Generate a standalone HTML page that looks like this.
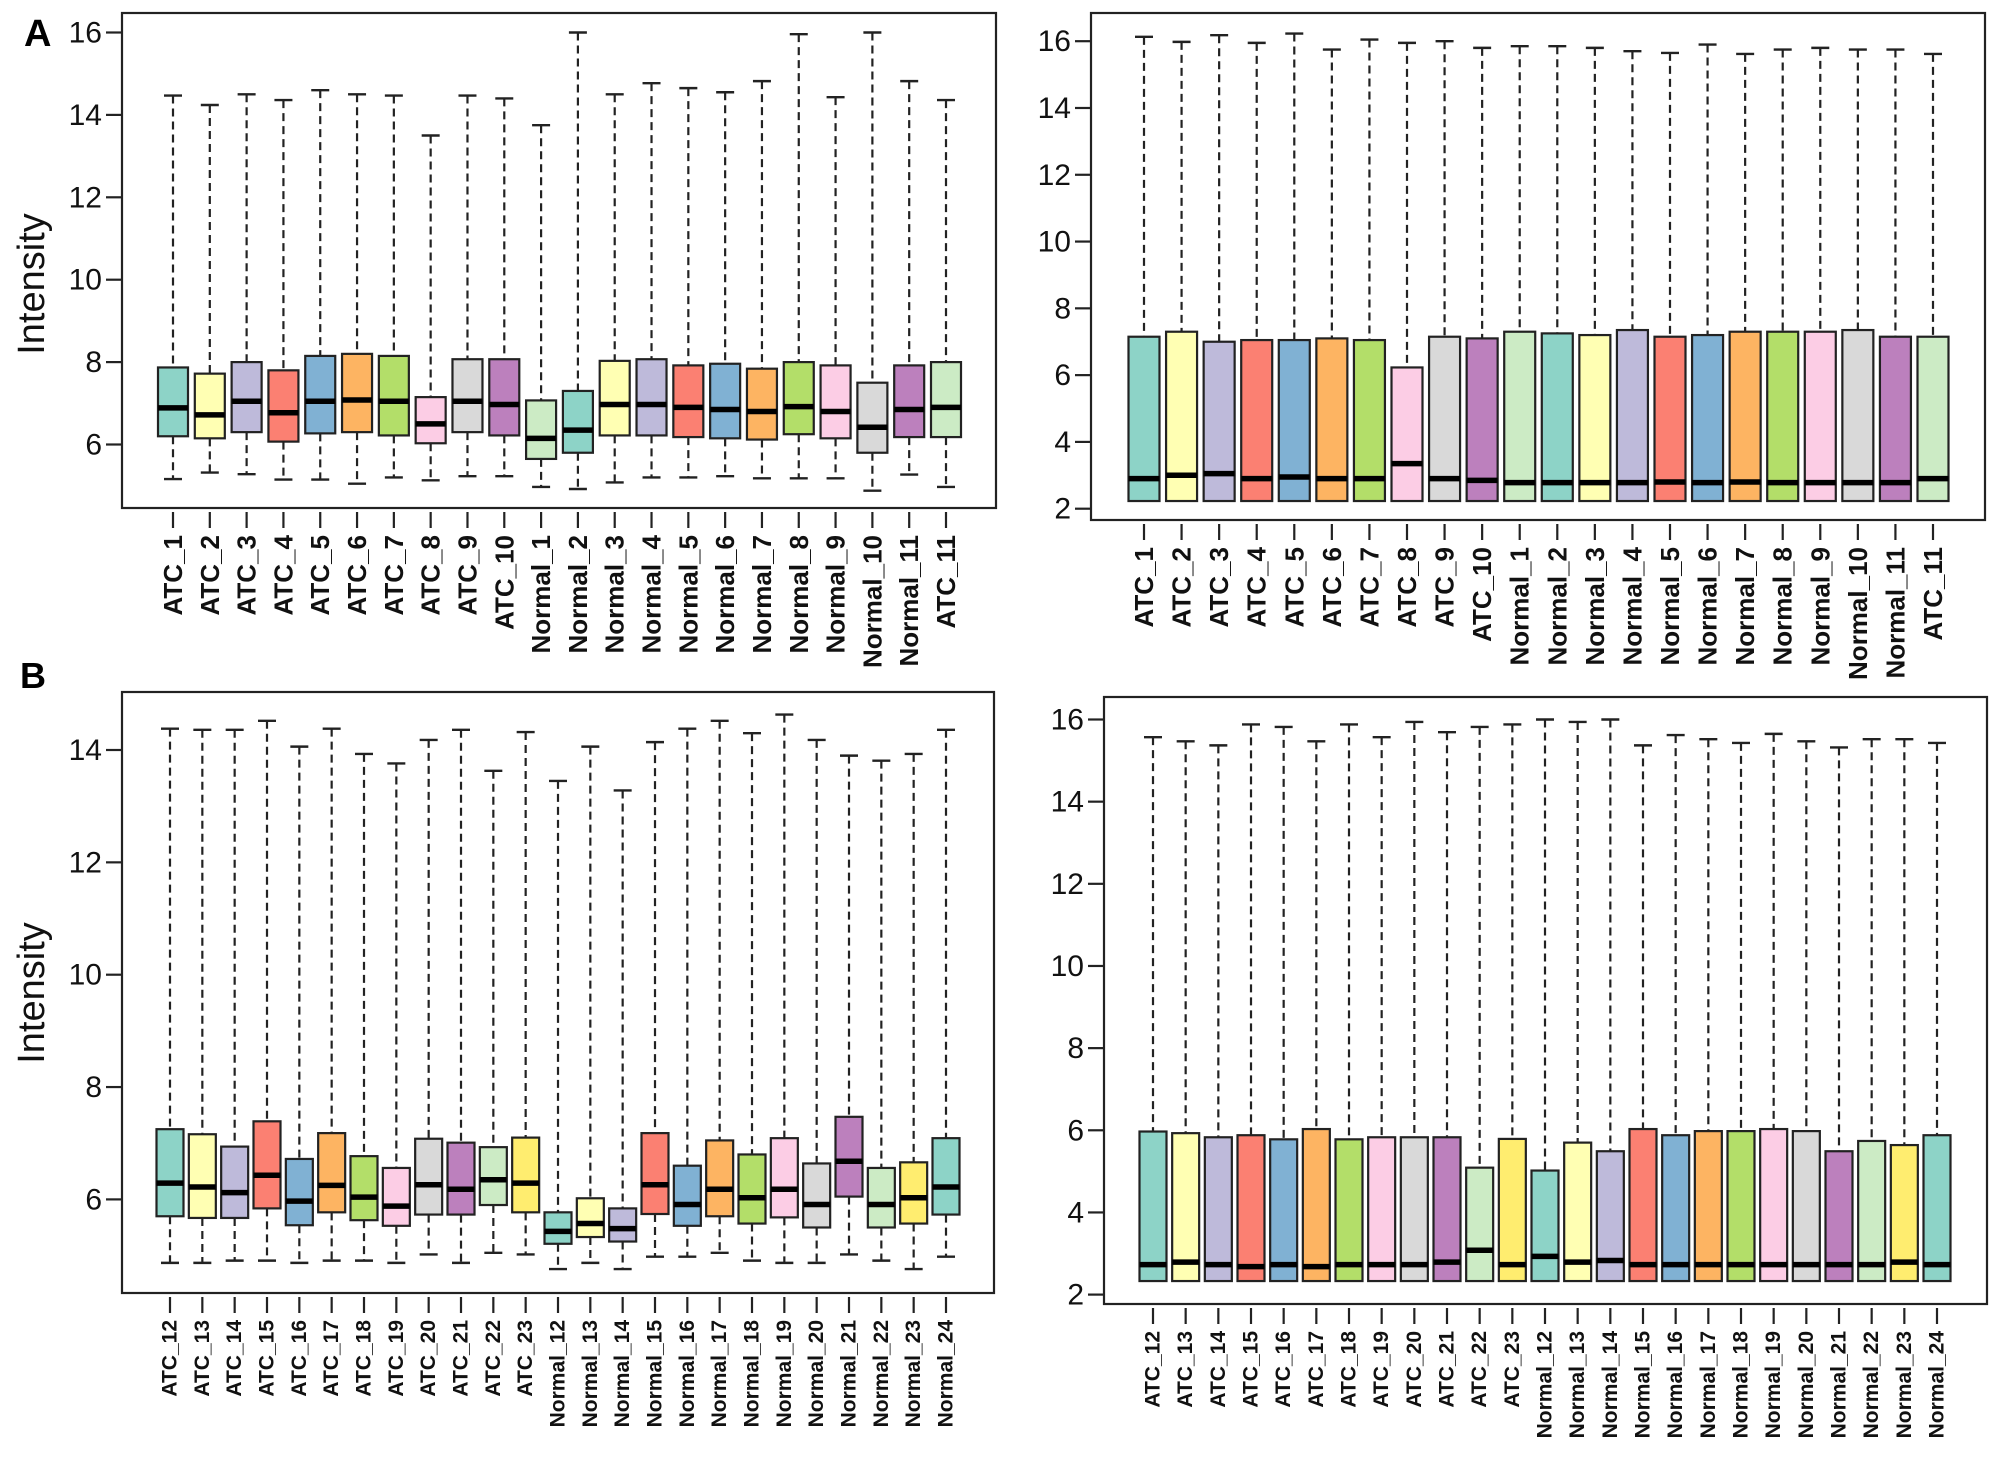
<!DOCTYPE html>
<html><head><meta charset="utf-8"><style>
html,body{margin:0;padding:0;background:#fff;}
svg{display:block;font-family:"Liberation Sans",Arial,sans-serif;}
</style></head><body>
<svg id="fig" width="2008" height="1458" viewBox="0 0 2008 1458" xmlns="http://www.w3.org/2000/svg">
<text x="24" y="46" font-size="38" font-weight="bold">A</text>
<text x="20" y="688" font-size="36" font-weight="bold">B</text>
</svg>
<script>
// ---- Panel A data ----
const catsA = ["ATC_1","ATC_2","ATC_3","ATC_4","ATC_5","ATC_6","ATC_7","ATC_8","ATC_9","ATC_10","Normal_1","Normal_2","Normal_3","Normal_4","Normal_5","Normal_6","Normal_7","Normal_8","Normal_9","Normal_10","Normal_11","ATC_11"];
const aRawHi  = [14.47,14.24,14.5,14.36,14.6,14.5,14.47,13.5,14.47,14.4,13.75,16.0,14.5,14.77,14.65,14.55,14.82,15.96,14.43,16.0,14.82,14.36];
const aRawQ3  = [7.87,7.72,8.0,7.8,8.15,8.2,8.15,7.15,8.07,8.07,7.07,7.3,8.03,8.07,7.92,7.96,7.84,8.0,7.92,7.5,7.92,8.0];
const aRawMed = [6.89,6.72,7.05,6.77,7.05,7.08,7.05,6.5,7.05,6.97,6.15,6.35,6.97,6.97,6.9,6.85,6.8,6.92,6.8,6.42,6.85,6.9];
const aRawQ1  = [6.2,6.15,6.3,6.07,6.27,6.3,6.22,6.03,6.3,6.22,5.65,5.8,6.22,6.22,6.18,6.15,6.12,6.25,6.15,5.8,6.18,6.18];
const aRawLo  = [5.16,5.32,5.28,5.15,5.15,5.05,5.2,5.13,5.23,5.23,4.97,4.92,5.08,5.2,5.2,5.23,5.18,5.18,5.18,4.88,5.27,4.97];
const aNormHi  = [16.13,15.98,16.18,15.95,16.23,15.75,16.05,15.95,16.0,15.8,15.85,15.85,15.8,15.7,15.65,15.9,15.62,15.75,15.8,15.75,15.75,15.62];
const aNormQ3  = [7.15,7.3,7.0,7.05,7.05,7.1,7.05,6.23,7.15,7.1,7.3,7.25,7.2,7.35,7.15,7.2,7.3,7.3,7.3,7.35,7.15,7.15];
const aNormMed = [2.9,3.0,3.05,2.9,2.95,2.9,2.9,3.35,2.9,2.85,2.78,2.78,2.78,2.78,2.8,2.78,2.8,2.78,2.78,2.78,2.78,2.9];
const aNormQ1  = [2.23,2.23,2.23,2.23,2.23,2.23,2.23,2.23,2.23,2.23,2.23,2.23,2.23,2.23,2.23,2.23,2.23,2.23,2.23,2.23,2.23,2.23];
// ---- Panel B data ----
const catsB = ["ATC_12","ATC_13","ATC_14","ATC_15","ATC_16","ATC_17","ATC_18","ATC_19","ATC_20","ATC_21","ATC_22","ATC_23","Normal_12","Normal_13","Normal_14","Normal_15","Normal_16","Normal_17","Normal_18","Normal_19","Normal_20","Normal_21","Normal_22","Normal_23","Normal_24"];
const bRawHi  = [14.38,14.36,14.36,14.52,14.06,14.38,13.93,13.76,14.18,14.36,13.63,14.32,13.45,14.06,13.28,14.14,14.38,14.52,14.3,14.63,14.18,13.9,13.81,13.93,14.36];
const bRawQ3  = [7.25,7.16,6.94,7.39,6.72,7.18,6.77,6.56,7.08,7.01,6.93,7.1,5.77,6.02,5.84,7.18,6.6,7.05,6.8,7.09,6.64,7.47,6.56,6.66,7.09];
const bRawMed = [6.29,6.22,6.12,6.43,5.97,6.25,6.04,5.88,6.26,6.18,6.35,6.29,5.43,5.57,5.48,6.26,5.91,6.18,6.03,6.18,5.91,6.68,5.91,6.03,6.22];
const bRawQ1  = [5.7,5.67,5.67,5.84,5.54,5.77,5.63,5.53,5.73,5.73,5.9,5.77,5.21,5.33,5.25,5.74,5.53,5.7,5.57,5.68,5.5,6.05,5.5,5.57,5.73];
const bRawLo  = [4.87,4.87,4.91,4.91,4.87,4.91,4.91,4.87,5.02,4.87,5.05,5.02,4.76,4.87,4.76,4.98,4.98,5.05,4.91,4.87,4.87,5.02,4.91,4.76,4.98];
const bNormHi  = [15.57,15.47,15.37,15.88,15.82,15.47,15.88,15.57,15.94,15.69,15.82,15.88,16.0,15.94,16.0,15.37,15.62,15.52,15.43,15.65,15.47,15.32,15.52,15.52,15.43];
const bNormQ3  = [5.97,5.93,5.83,5.88,5.78,6.03,5.78,5.83,5.83,5.83,5.09,5.79,5.02,5.7,5.49,6.03,5.88,5.98,5.98,6.03,5.98,5.49,5.74,5.64,5.88];
const bNormMed = [2.73,2.79,2.73,2.68,2.73,2.68,2.73,2.73,2.73,2.79,3.08,2.73,2.93,2.79,2.83,2.73,2.73,2.73,2.73,2.73,2.73,2.73,2.73,2.79,2.73];
const bNormQ1  = [2.33,2.33,2.33,2.33,2.33,2.33,2.33,2.33,2.33,2.33,2.33,2.33,2.33,2.33,2.33,2.33,2.33,2.33,2.33,2.33,2.33,2.33,2.33,2.33,2.33];
const ticksA1 = [6,8,10,12,14,16];
const ticksB1 = [6,8,10,12,14];
const ticksNorm = [2,4,6,8,10,12,14,16];
const set3 = ["#8DD3C7","#FFFFB3","#BEBADA","#FB8072","#80B1D3","#FDB462","#B3DE69","#FCCDE5","#D9D9D9","#BC80BD","#CCEBC5","#FFED6F"];

const NS="http://www.w3.org/2000/svg";
const svg=document.getElementById('fig');
function mk(tag,attrs,parent){const e=document.createElementNS(NS,tag);for(const k in attrs)e.setAttribute(k,attrs[k]);(parent||svg).appendChild(e);return e;}

function panel(cfg){
  const g=mk('g',{});
  
  
  const y=v=>cfg.y0px+(v-cfg.y0)*(cfg.y1px-cfg.y0px)/(cfg.y1-cfg.y0);
  const n=cfg.cats.length;
  const x=i=>cfg.xFirst+i*(cfg.xLast-cfg.xFirst)/(n-1);
  const fr=mk('rect',{x:cfg.L,y:cfg.T,width:cfg.R-cfg.L,height:cfg.B-cfg.T,fill:'none',stroke:'#222','stroke-width':2.2},g);
  
  
  cfg.ticks.forEach(t=>{
    const tl=mk('line',{x1:cfg.L-16,x2:cfg.L,y1:y(t),y2:y(t),stroke:'#222','stroke-width':2.2},g);
    
    
    const tx=mk('text',{x:cfg.L-20,y:y(t)+10,'font-size':30,'text-anchor':'end',fill:'#111'},g);
    tx.textContent=t;
    
    
  });
  if(cfg.ytitle){
    const yt=mk('text',{x:0,y:0,'font-size':38,'text-anchor':'middle',transform:`translate(${cfg.ytx},${cfg.yty}) rotate(-90)`,fill:'#111'},g);
    yt.textContent='Intensity';
    
    
  }
  for(let i=0;i<n;i++){
    const cx=x(i), col=set3[i%cfg.ncol];
    const tk=mk('line',{x1:cx,x2:cx,y1:cfg.B+4,y2:cfg.B+20,stroke:'#222','stroke-width':2.2},g);
    
    
    const lb=mk('text',{x:0,y:0,'font-size':cfg.lfs,'font-weight':'bold','text-anchor':'end','dominant-baseline':'central',transform:`translate(${cx},${cfg.B+27}) rotate(-90)`,fill:'#111'},g);
    lb.textContent=cfg.cats[i];
    
    
    const hw=cfg.hw;
    const hi=cfg.hi[i], q3=cfg.q3[i], md=cfg.med[i], q1=cfg.q1[i], lo=cfg.lo?cfg.lo[i]:q1;
    const wu=mk('line',{x1:cx,x2:cx,y1:y(hi),y2:y(q3),stroke:'#222','stroke-width':2.2,'stroke-dasharray':'8 5'},g);
    
    
    const cu=mk('line',{x1:cx-9,x2:cx+9,y1:y(hi),y2:y(hi),stroke:'#222','stroke-width':2.4},g);
    
    
    if(cfg.lo){
      const wl=mk('line',{x1:cx,x2:cx,y1:y(q1),y2:y(lo),stroke:'#222','stroke-width':2.2,'stroke-dasharray':'8 5'},g);
      
      
      const cl=mk('line',{x1:cx-9,x2:cx+9,y1:y(lo),y2:y(lo),stroke:'#222','stroke-width':2.4},g);
      
      
    }
    const bx=mk('rect',{x:cx-hw,y:y(q3),width:2*hw,height:y(q1)-y(q3),fill:col,stroke:'#222','stroke-width':2.2},g);
    
    
    const ml=mk('line',{x1:cx-hw,x2:cx+hw,y1:y(md),y2:y(md),stroke:'#000','stroke-width':5.5},g);
    
    
  }
}

panel({name:'panel-a-raw',cats:catsA,hi:aRawHi,q3:aRawQ3,med:aRawMed,q1:aRawQ1,lo:aRawLo,ticks:ticksA1,
  L:122,T:13,R:996,B:508,y0:6,y0px:444.5,y1:16,y1px:32.5,xFirst:173,xLast:946,hw:15,ncol:11,lfs:26,ytitle:true,ytx:44,yty:284});
panel({name:'panel-a-normalized',cats:catsA,hi:aNormHi,q3:aNormQ3,med:aNormMed,q1:aNormQ1,lo:null,ticks:ticksNorm,
  L:1091,T:13,R:1985,B:520,y0:2,y0px:508.7,y1:16,y1px:41.2,xFirst:1144,xLast:1933,hw:15.5,ncol:11,lfs:26,ytitle:false});
panel({name:'panel-b-raw',cats:catsB,hi:bRawHi,q3:bRawQ3,med:bRawMed,q1:bRawQ1,lo:bRawLo,ticks:ticksB1,
  L:122,T:692,R:994,B:1293,y0:6,y0px:1199.4,y1:14,y1px:750,xFirst:170,xLast:946,hw:13.5,ncol:12,lfs:21,ytitle:true,ytx:44,yty:993});
panel({name:'panel-b-normalized',cats:catsB,hi:bNormHi,q3:bNormQ3,med:bNormMed,q1:bNormQ1,lo:null,ticks:ticksNorm,
  L:1104,T:697,R:1987,B:1304,y0:2,y0px:1294.6,y1:16,y1px:719.5,xFirst:1153,xLast:1937,hw:13.5,ncol:12,lfs:21,ytitle:false});
</script>
</body></html>
